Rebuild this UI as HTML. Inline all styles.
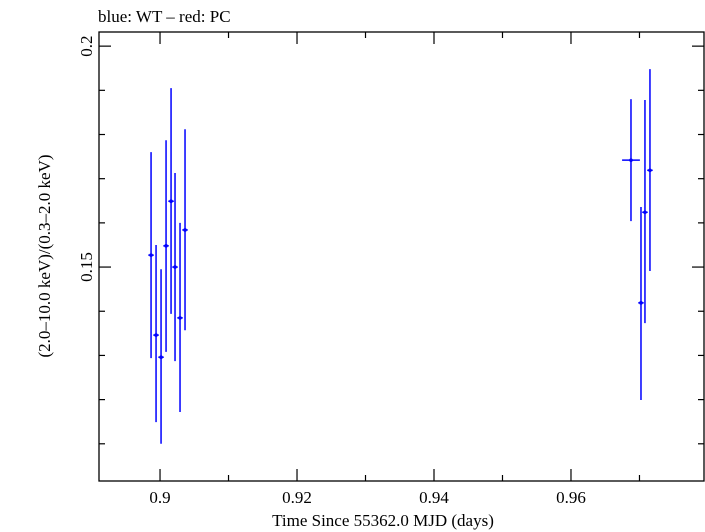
<!DOCTYPE html>
<html><head><meta charset="utf-8"><style>
html,body{margin:0;padding:0;background:#fff;}
svg{display:block;font-family:"Liberation Serif",serif;}
</style></head><body>
<svg id="chart" width="705" height="532">
<text x="98" y="22" font-size="17">blue: WT – red: PC</text>
<rect x="99" y="32" width="605" height="449" fill="none" stroke="#000" stroke-width="1.3"/>
<g id="axes"></g>
<g id="marks"></g>
<text x="383" y="526" font-size="17" text-anchor="middle">Time Since 55362.0 MJD (days)</text>
<text transform="translate(50,256) rotate(-90)" font-size="17" text-anchor="middle">(2.0–10.0 keV)/(0.3–2.0 keV)</text>
</svg>
<script>
const times=[0.89869,0.89942,0.90015,0.90088,0.90161,0.90219,0.90292,0.90365,0.96876,0.97022,0.9708,0.97153];
const timeErr=[0.0004,0.0004,0.0004,0.0004,0.0004,0.0004,0.0004,0.0004,0.0013,0.0004,0.0004,0.0004];
const ratios=[0.1527,0.1346,0.1296,0.1548,0.1649,0.15,0.1385,0.1584,0.1742,0.1419,0.1624,0.1719];
const ratioHi=[0.176,0.155,0.1495,0.1787,0.1905,0.1713,0.16,0.1812,0.188,0.1636,0.1878,0.1948];
const ratioLo=[0.1294,0.1149,0.11,0.1308,0.1394,0.1287,0.1172,0.1357,0.1604,0.1199,0.1373,0.1491];
const xMajor=[0.9,0.92,0.94,0.96];
const xMajorLabels=["0.9","0.92","0.94","0.96"];
const xMinor=[0.91,0.93,0.95,0.97];
const yMajor=[0.15,0.2];
const yMajorLabels=["0.15","0.2"];
const yMinor=[0.11,0.12,0.13,0.14,0.16,0.17,0.18,0.19];
const X0=0.89109,X1=0.97942,Y0=0.10158,Y1=0.2032;
const L=99,R=704,T=32,B=481;
const sx=v=>L+(v-X0)/(X1-X0)*(R-L);
const sy=v=>B-(v-Y0)/(Y1-Y0)*(B-T);
const NS="http://www.w3.org/2000/svg";
function mk(tag,attrs,parent){const e=document.createElementNS(NS,tag);for(const k in attrs)e.setAttribute(k,attrs[k]);parent.appendChild(e);return e;}
const axes=document.getElementById('axes'),marks=document.getElementById('marks');
xMajor.forEach((v,i)=>{const x=sx(v);
 let t=mk('line',{x1:x,x2:x,y1:B,y2:B-12,stroke:'#000','stroke-width':1.2},axes);
 
 
 t=mk('line',{x1:x,x2:x,y1:T,y2:T+12,stroke:'#000','stroke-width':1.2},axes);
 
 
 const l=mk('text',{x:x,y:503,'font-size':17,'text-anchor':'middle'},axes);l.textContent=xMajorLabels[i];
 
 
});
xMinor.forEach(v=>{const x=sx(v);
 let t=mk('line',{x1:x,x2:x,y1:B,y2:B-6,stroke:'#000','stroke-width':1.2},axes);
 
 
 t=mk('line',{x1:x,x2:x,y1:T,y2:T+6,stroke:'#000','stroke-width':1.2},axes);
 
 
});
yMajor.forEach((v,i)=>{const y=sy(v);
 let t=mk('line',{x1:L,x2:L+12,y1:y,y2:y,stroke:'#000','stroke-width':1.2},axes);
 
 
 t=mk('line',{x1:R,x2:R-12,y1:y,y2:y,stroke:'#000','stroke-width':1.2},axes);
 
 
 const l=mk('text',{transform:`translate(92,${y}) rotate(-90)`,'font-size':17,'text-anchor':'middle'},axes);l.textContent=yMajorLabels[i];
 
 
});
yMinor.forEach(v=>{const y=sy(v);
 let t=mk('line',{x1:L,x2:L+6,y1:y,y2:y,stroke:'#000','stroke-width':1.2},axes);
 
 
 t=mk('line',{x1:R,x2:R-6,y1:y,y2:y,stroke:'#000','stroke-width':1.2},axes);
 
 
});
times.forEach((t,i)=>{const x=sx(t),y=sy(ratios[i]);
 const g=mk('g',{stroke:'#0000ff','stroke-width':1.5},marks);
 
 
 mk('line',{x1:x,x2:x,y1:sy(ratioHi[i]),y2:sy(ratioLo[i])},g);
 mk('line',{x1:sx(t-timeErr[i]),x2:sx(t+timeErr[i]),y1:y,y2:y},g);
 mk('circle',{cx:x,cy:y,r:1.8,fill:'#0000ff',stroke:'none'},g);
});
</script>
</body></html>
